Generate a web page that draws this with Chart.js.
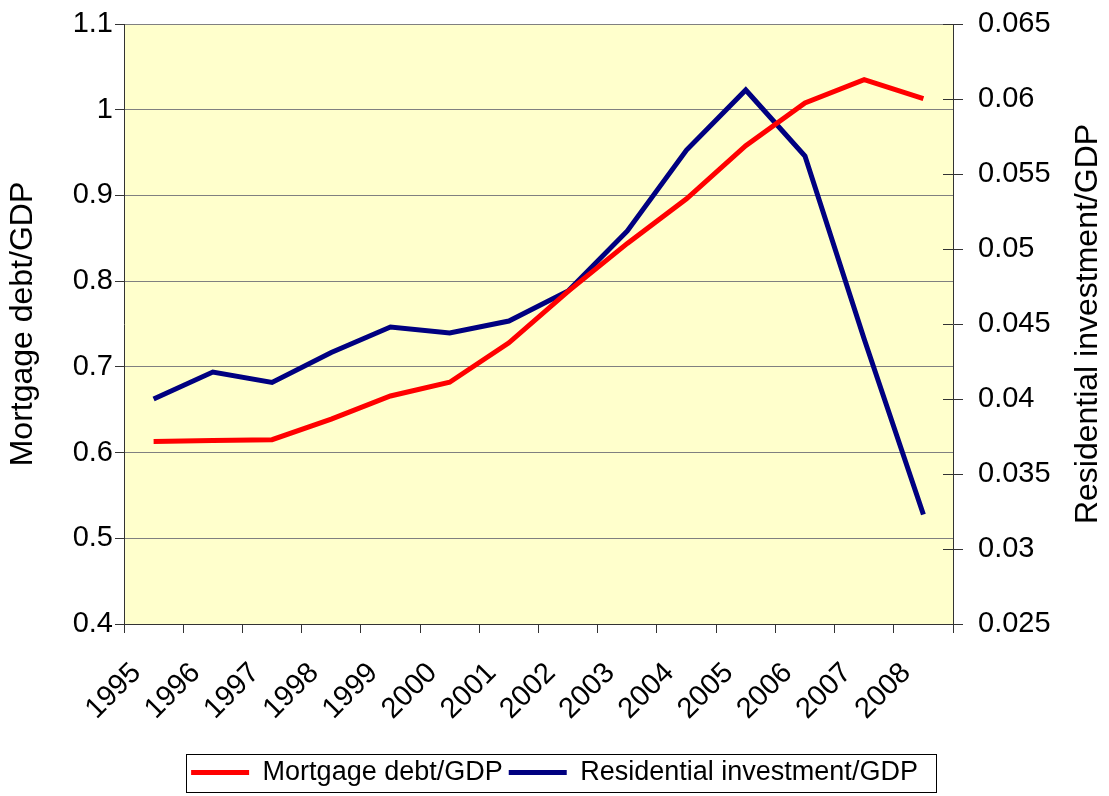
<!DOCTYPE html>
<html>
<head>
<meta charset="utf-8">
<script src="https://cdn.jsdelivr.net/npm/chart.js@4.4.1/dist/chart.umd.min.js"></script>
<style>
  html, body { margin: 0; padding: 0; background: #fff; }
  #wrap { width: 1109px; height: 796px; }
</style>
</head>
<body>
<div id="wrap"><canvas id="chartCanvas" width="1109" height="796"></canvas></div>
<script>
const years = ['1995', '1996', '1997', '1998', '1999', '2000', '2001', '2002', '2003', '2004', '2005', '2006', '2007', '2008'];
const mortgageDebt = [0.613, 0.614, 0.615, 0.639, 0.666, 0.682, 0.728, 0.788, 0.844, 0.896, 0.958, 1.008, 1.035, 1.013];
const residentialInvestment = [0.0400, 0.0418, 0.0411, 0.0431, 0.0448, 0.0444, 0.0452, 0.0472, 0.0512, 0.0566, 0.0606, 0.0562, 0.0440, 0.0323];

const FONT = '"Liberation Sans", Arial, sans-serif';
const AXIS = '#333333';
const GRID = '#808080';
const rightTitle = 'Residential investment/GDP';

const trimNum = v => String(+v.toFixed(4));

// yellow plot area
const plotBackground = {
  id: 'plotBackground',
  beforeDraw(chart) {
    const { ctx, chartArea: a } = chart;
    ctx.save();
    ctx.fillStyle = '#FFFFCC';
    ctx.fillRect(a.left, a.top, a.right - a.left, a.bottom - a.top);
    ctx.restore();
  }
};

// right axis ticks cross the axis line, right title reads upwards, legend has a frame
const extras = {
  id: 'extras',
  afterDraw(chart) {
    const { ctx, chartArea: a } = chart;
    const y1 = chart.scales.y1;
    ctx.save();
    ctx.strokeStyle = AXIS;
    ctx.lineWidth = 1;
    y1.ticks.forEach(t => {
      const py = Math.round(y1.getPixelForValue(t.value)) + 0.5;
      ctx.beginPath();
      ctx.moveTo(y1.left - 10, py);
      ctx.lineTo(y1.left, py);
      ctx.stroke();
    });

    ctx.save();
    ctx.translate(1088, (a.top + a.bottom) / 2);
    ctx.rotate(-Math.PI / 2);
    ctx.fillStyle = '#000';
    ctx.font = '32px ' + FONT;
    ctx.textAlign = 'center';
    ctx.textBaseline = 'middle';
    ctx.fillText(rightTitle, 0, 0);
    ctx.restore();

    const boxes = chart.legend.legendHitBoxes;
    if (boxes && boxes.length) {
      const first = boxes[0], last = boxes[boxes.length - 1];
      const l = first.left - 5, r = last.left + last.width + 18;
      const cy = first.top + first.height / 2;
      ctx.strokeStyle = '#000';
      ctx.strokeRect(Math.round(l) + 0.5, Math.round(cy - 19) + 0.5, Math.round(r - l), 38);
    }
    ctx.restore();
  }
};

const noEdgePadding = scale => {
  scale.paddingTop = 0;
  scale.paddingBottom = 0;
};

const data = {
  labels: years,
  datasets: [{
    label: 'Mortgage debt/GDP',
    data: mortgageDebt,
    borderColor: '#FF0000',
    backgroundColor: '#FF0000',
    borderWidth: 5,
    pointRadius: 0,
    tension: 0,
    yAxisID: 'y'
  }, {
    label: 'Residential investment/GDP',
    data: residentialInvestment,
    borderColor: '#000080',
    backgroundColor: '#000080',
    borderWidth: 5,
    pointRadius: 0,
    tension: 0,
    yAxisID: 'y1'
  }]
};

const chartConfig = {
  type: 'line',
  data,
  options: {
    responsive: false,
    animation: false,
    layout: { padding: { top: 24, left: 0, right: 0, bottom: 0 } },
    plugins: {
      tooltip: { enabled: false },
      legend: {
        position: 'bottom',
        labels: {
          font: { family: FONT, size: 27 },
          color: '#000',
          boxWidth: 58,
          boxHeight: 5,
          padding: 6,
          generateLabels(chart) {
            return Chart.defaults.plugins.legend.labels.generateLabels(chart)
              .map(l => ({ ...l, lineWidth: 0, fillStyle: l.strokeStyle }));
          }
        }
      }
    },
    scales: {
      x: {
        offset: true,
        grid: { offset: true, drawOnChartArea: false, tickLength: 9, color: AXIS },
        border: { color: AXIS, width: 1 },
        ticks: {
          autoSkip: false,
          minRotation: 45,
          maxRotation: 45,
          padding: 6,
          color: '#000',
          font: { family: FONT, size: 29 },
          callback: (v, i) => years[i] + '   '
        },
        afterFit(scale) { scale.height = 129; }
      },
      y: {
        position: 'left',
        min: 0.4,
        max: 1.1,
        ticks: {
          stepSize: 0.1,
          padding: 2,
          color: '#000',
          font: { family: FONT, size: 29 },
          callback: v => trimNum(v)
        },
        grid: { color: GRID, tickColor: AXIS, tickLength: 9 },
        border: { color: AXIS, width: 1 },
        title: {
          display: true,
          text: 'Mortgage debt/GDP',
          color: '#000',
          font: { family: FONT, size: 32 },
          padding: { top: 4, bottom: 4 }
        },
        afterFit(scale) { scale.width = 124; noEdgePadding(scale); }
      },
      y1: {
        position: 'right',
        min: 0.025,
        max: 0.065,
        ticks: {
          stepSize: 0.005,
          padding: 15,
          color: '#000',
          font: { family: FONT, size: 29 },
          callback: v => trimNum(v)
        },
        grid: { drawOnChartArea: false, color: AXIS, tickLength: 10 },
        border: { color: AXIS, width: 1 },
        afterFit(scale) { scale.width = 156; noEdgePadding(scale); }
      }
    }
  },
  plugins: [plotBackground, extras]
};

const currentChart = new Chart(document.getElementById('chartCanvas'), chartConfig);
</script>
</body>
</html>
